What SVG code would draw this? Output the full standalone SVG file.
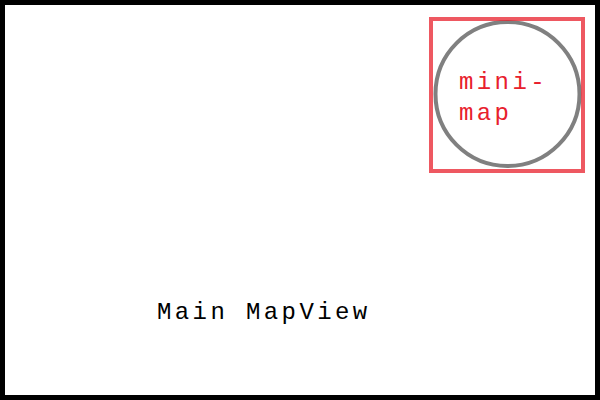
<svg xmlns="http://www.w3.org/2000/svg" width="600" height="400" viewBox="0 0 600 400">
<style>
.t{font-family:"Liberation Mono","Courier New",monospace;font-size:24px;letter-spacing:3.4px}
</style>
<rect width="600" height="400" fill="#fff"/>
<g id="mainview">
<rect x="2.5" y="2.5" width="595" height="395" fill="none" stroke="#000" stroke-width="5"/>
<text class="t" x="157" y="319" fill="#000">Main MapView</text>
</g>
<g id="minimap">
<circle cx="507.5" cy="94" r="72" fill="none" stroke="#808080" stroke-width="4"/>
<rect x="431" y="19" width="152" height="152" fill="none" stroke="#e8202c" stroke-opacity="0.75" stroke-width="4"/>
<text class="t" fill="#e8202c"><tspan x="459" y="89">mini-</tspan><tspan x="459" y="120">map</tspan></text>
</g>
<g id="connectors"/>
</svg>
